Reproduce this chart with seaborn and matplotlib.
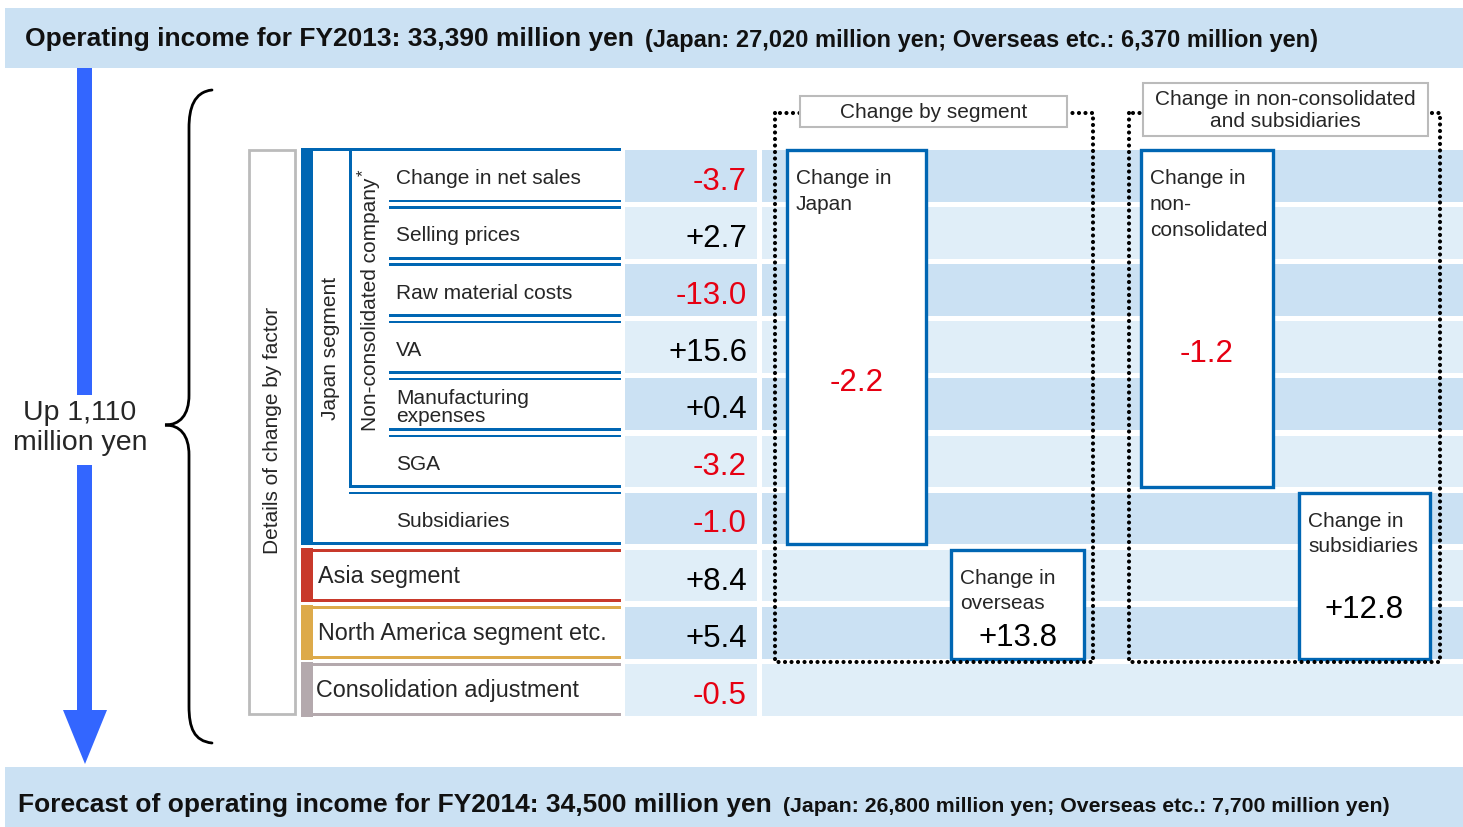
import matplotlib
matplotlib.use("Agg")
import matplotlib.pyplot as plt
from matplotlib.patches import Rectangle, Polygon, PathPatch
from matplotlib.path import Path
import seaborn as sns

# ---- data ----
factor_labels = ["Change in net sales", "Selling prices", "Raw material costs", "VA",
                 "Manufacturing\nexpenses", "SGA", "Subsidiaries",
                 "Asia segment", "North America segment etc.", "Consolidation adjustment"]
factor_values = [-3.7, 2.7, -13.0, 15.6, 0.4, -3.2, -1.0, 8.4, 5.4, -0.5]

segment_labels = ["Change in\nJapan", "Change in\noverseas"]
segment_values = [-2.2, 13.8]
entity_labels = ["Change in\nnon-\nconsolidated", "Change in\nsubsidiaries"]
entity_values = [-1.2, 12.8]

top_main = "Operating income for FY2013: 33,390 million yen"
top_sub = "(Japan: 27,020 million yen; Overseas etc.: 6,370 million yen)"
bottom_main = "Forecast of operating income for FY2014: 34,500 million yen"
bottom_sub = "(Japan: 26,800 million yen; Overseas etc.: 7,700 million yen)"
total_change = "Up 1,110\nmillion yen"

# ---- style ----
sns.set_theme(style="white")
plt.rcParams['font.family'] = ['Liberation Sans', 'DejaVu Sans']

DARK = "#CBE1F3"
LIGHT = "#E0EEF8"
BLUE = "#0066B3"
RED = "#E60012"
ARROW = "#3366FF"
seg_colors = {7: "#C8392B", 8: "#DDAA4A", 9: "#B4A9AD"}

W, H = 1463, 827
fig = plt.figure(figsize=(W / 100, H / 100), dpi=100)
ax = fig.add_axes([0, 0, 1, 1])
ax.set_xlim(0, W)
ax.set_ylim(H, 0)
ax.axis("off")

TOP, PITCH, SH = 150, 57.1, 51.7
n = len(factor_values)
row_top = [TOP + i * PITCH for i in range(n)]
row_mid = [t + SH / 2 for t in row_top]
stripe_cols = [DARK if i % 2 == 0 else LIGHT for i in range(n)]


def hbar(y, x0, x1, color, th=2.6, z=3):
    ax.add_patch(Rectangle((x0, y - th / 2), x1 - x0, th, color=color, lw=0, zorder=z))


# banners
ax.add_patch(Rectangle((5, 8), W - 5, 60, color=DARK, lw=0))
ax.add_patch(Rectangle((5, 767), W - 5, 60, color=DARK, lw=0))
ax.text(25, 39, top_main, fontsize=19, fontweight="bold", va="center", color="#111111")
ax.text(645, 40, top_sub, fontsize=17, fontweight="bold", va="center", color="#111111")
ax.text(18, 805, bottom_main, fontsize=19, fontweight="bold", va="center", color="#111111")
ax.text(783, 806, bottom_sub, fontsize=15.3, fontweight="bold", va="center", color="#111111")

# value column and right region stripes
ax.barh(row_mid, [757 - 625] * n, left=625, height=SH, color=stripe_cols, lw=0, zorder=1)
ax.barh(row_mid, [W - 762] * n, left=762, height=SH, color=stripe_cols, lw=0, zorder=1)

# big arrow
ax.add_patch(Rectangle((77, 68), 15, 395 - 68, color=ARROW, lw=0))
ax.add_patch(Rectangle((77, 465), 15, 711 - 465, color=ARROW, lw=0))
ax.add_patch(Polygon([(63, 710), (107, 710), (85, 764)], closed=True, color=ARROW, lw=0))
ax.text(80, 428, total_change, fontsize=20.5, ha="center", va="center", linespacing=1.2)

# curly brace
verts = [(212, 90), (194, 92), (189, 108), (189, 128),
         (189, 395),
         (189, 415), (180, 425), (165, 425),
         (180, 425), (189, 435), (189, 455),
         (189, 706),
         (189, 728), (194, 741), (212, 743)]
codes = [Path.MOVETO, Path.CURVE4, Path.CURVE4, Path.CURVE4,
         Path.LINETO,
         Path.CURVE4, Path.CURVE4, Path.CURVE4,
         Path.CURVE4, Path.CURVE4, Path.CURVE4,
         Path.LINETO,
         Path.CURVE4, Path.CURVE4, Path.CURVE4]
ax.add_patch(PathPatch(Path(verts, codes), fill=False, lw=2.0, ec="black", capstyle="round"))

# details box
ax.add_patch(Rectangle((249, 150), 46, 714 - 150, fill=False, ec="#BBBBBB", lw=2))
ax.text(272, 430, "Details of change by factor", rotation=90, fontsize=15,
        ha="center", va="center")

# Japan segment frame
jp_bottom = row_top[6] + SH
ax.add_patch(Rectangle((301, 148), 12, jp_bottom - 148, color=BLUE, lw=0, zorder=3))
hbar(149.5, 301, 621, BLUE)
hbar(jp_bottom - 1, 301, 621, BLUE, th=3)
nc_bottom = row_top[5] + SH
ax.add_patch(Rectangle((349, 149), 2.6, nc_bottom - 149, color=BLUE, lw=0, zorder=3))
for i in range(6):
    if i > 0:
        hbar(row_top[i] + 0.5, 389, 621, BLUE)
    hbar(row_top[i] + SH - 0.5, 389 if i < 5 else 349, 621, BLUE)
hbar(row_top[6] + 0.5, 349, 621, BLUE)
ax.text(330, 348, "Japan segment", rotation=90, fontsize=15, ha="center", va="center")
ax.text(370, 304, "Non-consolidated company", rotation=90, fontsize=15,
        ha="center", va="center")
ax.text(363, 173, "*", rotation=90, fontsize=12, ha="center", va="center")

# other segments frames
for i, c in seg_colors.items():
    ax.add_patch(Rectangle((301, row_top[i] - 1.5), 12, SH + 2.5, color=c, lw=0, zorder=3))
    hbar(row_top[i] + 0.3, 301, 621, c, th=3)
    hbar(row_top[i] + SH - 0.8, 301, 621, c, th=3)

# factor labels and values
for i, (lab, v) in enumerate(zip(factor_labels, factor_values)):
    if i < 7:
        ax.text(396, row_mid[i] + 3, lab, fontsize=15, va="center", linespacing=0.95)
    else:
        ax.text(318 if i < 9 else 316, row_mid[i] + 1, lab, fontsize=16.8, va="center")
    ax.text(747, row_mid[i] + 6, f"{v:+.1f}", fontsize=22.5, ha="right", va="center",
            color=RED if v < 0 else "black")


def dotted_box(x0, x1, y0, y1):
    ax.plot([x0, x0, x1, x1, x0], [y0, y1, y1, y0, y0], color="black", lw=3.0,
            linestyle=(0, (0.01, 1.55)), dash_capstyle="round", zorder=6)


def label_box(x0, x1, y0, y1, text):
    ax.add_patch(Rectangle((x0, y0), x1 - x0, y1 - y0, fc="white", ec="#BBBBBB", lw=1.5, zorder=7))
    ax.text((x0 + x1) / 2, (y0 + y1) / 2 + 1, text, fontsize=15, ha="center", va="center",
            linespacing=1.15, zorder=8)


def result_box(x0, x1, r0, r1, text, v, frac):
    y0 = row_top[r0]
    y1 = row_top[r1] + SH
    ax.add_patch(Rectangle((x0, y0), x1 - x0, y1 - y0, fc="white", ec=BLUE, lw=2.4, zorder=5))
    ax.text(x0 + 9, y0 + 19, text, fontsize=15, va="top", ha="left", linespacing=1.45, zorder=8)
    ax.text((x0 + x1) / 2, y0 + frac * (y1 - y0), f"{v:+.1f}", fontsize=22.5, ha="center",
            va="center", color=RED if v < 0 else "black", zorder=8)


dotted_box(775, 1093, 113, 662)
dotted_box(1129, 1440, 113, 662)
label_box(800, 1067, 96, 127, "Change by segment")
label_box(1143, 1428, 83, 136, "Change in non-consolidated\nand subsidiaries")

result_box(787, 926, 0, 6, segment_labels[0], segment_values[0], 0.59)
result_box(951, 1084, 7, 8, segment_labels[1], segment_values[1], 0.81)
result_box(1141, 1273, 0, 5, entity_labels[0], entity_values[0], 0.605)
result_box(1299, 1430, 6, 8, entity_labels[1], entity_values[1], 0.71)

fig.savefig("out.png", dpi=100)
